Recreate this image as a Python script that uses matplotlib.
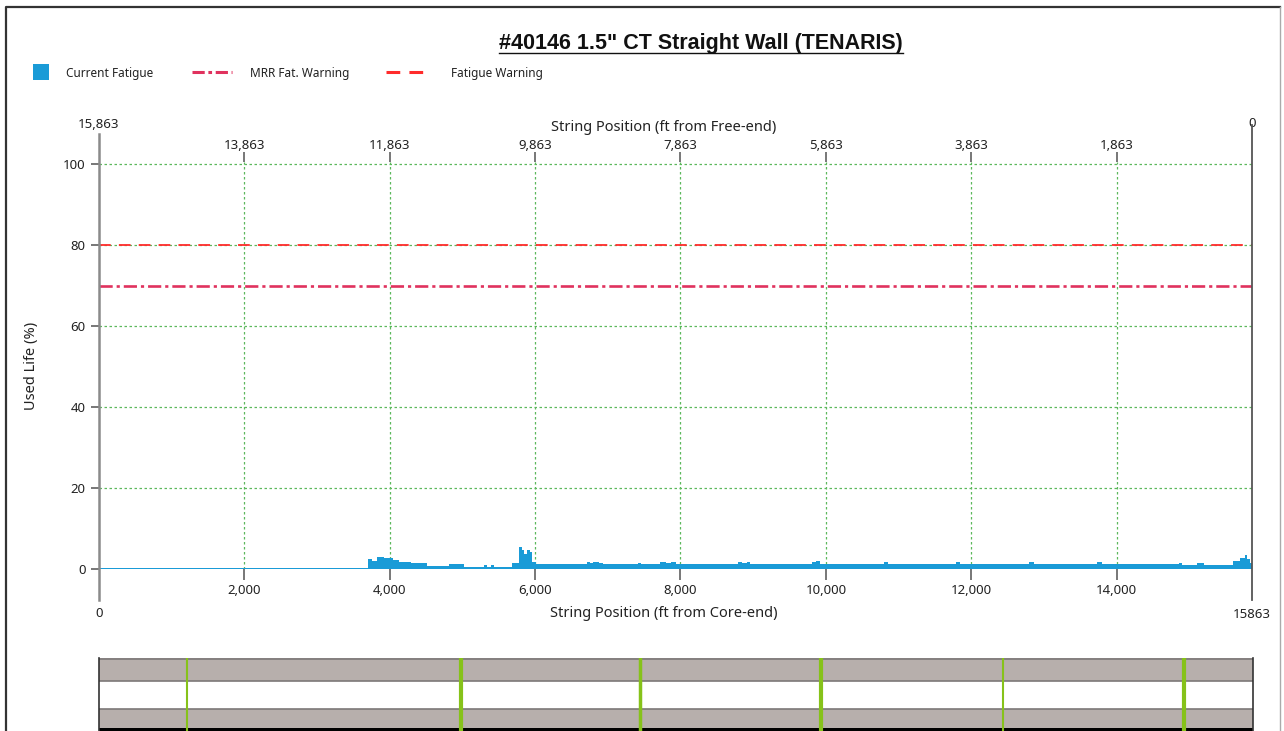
import matplotlib
matplotlib.use("Agg")
import matplotlib.pyplot as plt
from matplotlib.patches import Rectangle

plt.rcParams['font.family'] = ['Noto Sans', 'DejaVu Sans']

# ---- data ---------------------------------------------------------------
string_length = 15863
chart_title = '#40146 1.5" CT Straight Wall (TENARIS)'

# fatigue profile as steps: start of segment (ft from core-end) and used life (%)
seg_start = [0, 3706, 3760, 3830, 3922, 4050, 4128, 4289, 4518, 4816, 5023, 5298,
             5344, 5400, 5430, 5688, 5780, 5815, 5849, 5894, 5930, 5963, 6009,
             6709, 6760, 6800, 6880, 6937, 7420, 7460, 7713, 7800, 7870, 7941,
             8785, 8850, 8917, 8960, 9811, 9870, 9925, 10800, 10860, 11790,
             11850, 12800, 12860, 13725, 13805, 14860, 14900, 15100, 15200,
             15600, 15700, 15760, 15800, 15840]
seg_value = [0.3, 2.4, 2.0, 3.0, 2.6, 2.3, 1.8, 1.4, 0.8, 1.2, 0.6, 1.1,
             0.6, 0.9, 0.6, 1.4, 5.5, 4.6, 3.6, 4.7, 4.2, 1.8, 1.2,
             1.7, 1.4, 1.8, 1.4, 1.2, 1.6, 1.2, 1.7, 1.4, 1.8, 1.2,
             1.7, 1.4, 1.7, 1.2, 1.7, 2.0, 1.2, 1.8, 1.2, 1.8,
             1.2, 1.8, 1.2, 1.7, 1.2, 1.6, 1.0, 1.4, 1.0,
             2.0, 2.6, 3.5, 2.4, 1.5]

fatigue_warning = 80
mrr_warning = 70

x_ticks = [2000, 4000, 6000, 8000, 10000, 12000, 14000]
y_ticks = [0, 20, 40, 60, 80, 100]

# welds shown in the strip under the chart (ft from core-end)
weld_pos = [1210, 4970, 7430, 9930, 12420, 14910]
weld_lw = [1.5, 3.0, 2.5, 3.0, 1.5, 3.0]

# ---- style ----------------------------------------------------------------
W, H = 1284, 731
c_fill = '#1a9bd7'
c_mrr = '#e0325e'
c_fat = '#ff2b2b'
c_grid = '#5cb85c'
c_tick = '#777777'
c_text = '#222222'
fs_tick = 9.5
fs_label = 10.5


def rect(x0, y0, x1, y1):
    # pixel box (top-left origin) -> figure fraction
    return [x0 / W, 1 - y1 / H, (x1 - x0) / W, (y1 - y0) / H]


fig = plt.figure(figsize=(W / 100, H / 100), dpi=100)

# ---- main chart -------------------------------------------------------------
ax = fig.add_axes(rect(99, 162, 1252, 569))
ax.set_xlim(0, string_length)
ax.set_ylim(0, 100.5)

xs = seg_start + [string_length]
ys = seg_value + [seg_value[-1]]
ax.fill_between(xs, 0, ys, step='post', color=c_fill, lw=0, zorder=3)

ax.axhline(fatigue_warning, color=c_fat, lw=1.3, ls=(0, (6.5, 4.5)), zorder=4)
ax.axhline(mrr_warning, color=c_mrr, lw=1.9, ls=(0, (5, 1.5, 1.2, 1.5)), zorder=4)

for s in ax.spines.values():
    s.set_visible(False)

ax.set_xticks(x_ticks)
ax.set_xticklabels([f"{t:,}" for t in x_ticks])
ax.set_yticks(y_ticks)
ax.grid(True, color=c_grid, lw=0.9, ls=(0, (2, 2)), zorder=1)
ax.tick_params(axis='x', length=8, width=1.4, color=c_tick, pad=2.5,
               labelsize=fs_tick, labelcolor=c_text)
ax.tick_params(axis='y', length=6, width=1.4, color=c_tick, pad=3.5,
               labelsize=fs_tick, labelcolor=c_text)

ax.set_xlabel('String Position (ft from Core-end)', fontsize=fs_label, color=c_text)
ax.xaxis.set_label_coords(0.49, -0.09)
ax.set_ylabel('Used Life (%)', fontsize=fs_label, color=c_text)
ax.yaxis.set_label_coords(-0.052, 0.5)

trans = ax.get_xaxis_transform()
# left axis line and right end line
ax.plot([0, 0], [-0.076, 1.068], transform=trans, color='#8a8a8a', lw=1.8,
        clip_on=False, zorder=5)
ax.plot([string_length, string_length], [-0.076, 1.09], transform=trans,
        color='#555555', lw=1.3, clip_on=False, zorder=5)
ax.text(0, -0.11, "0", transform=trans, ha='center', va='center',
        fontsize=fs_tick, color=c_text)
ax.text(string_length, -0.113, f"{string_length}", transform=trans,
        ha='center', va='center', fontsize=fs_tick, color=c_text)

# top axis: ft from free-end
ax2 = ax.twiny()
ax2.set_xlim(0, string_length)
for s in ax2.spines.values():
    s.set_visible(False)
ax2.set_xticks(x_ticks)
ax2.set_xticklabels([f"{string_length - t:,}" for t in x_ticks])
ax2.tick_params(axis='x', length=7.5, width=1.4, color=c_tick, pad=0,
                labelsize=fs_tick, labelcolor=c_text)
ax2.set_xlabel('String Position (ft from Free-end)', fontsize=fs_label, color=c_text)
ax2.xaxis.set_label_coords(0.49, 1.075)
ax.text(0, 1.093, f"{string_length:,}", transform=trans, ha='center',
        va='center', fontsize=fs_tick, color=c_text)
ax.text(string_length, 1.095, "0", transform=trans, ha='center',
        va='center', fontsize=fs_tick, color=c_text)

# ---- weld strip -----------------------------------------------------------
sx = fig.add_axes(rect(99, 658, 1253, 731))
sx.set_xlim(0, string_length)
sx.set_ylim(0, 1)
sx.axhspan(0.685, 1, color='#b7afac', lw=0)
sx.axhspan(0.301, 0.685, color='white', lw=0)
sx.axhspan(0.041, 0.301, color='#b7afac', lw=0)
sx.axhspan(0, 0.041, color='black', lw=0)
for yb in [0.985, 0.685, 0.301]:
    sx.axhline(yb, color='#7d7878', lw=1.2)
for xp, lw in zip(weld_pos, weld_lw):
    sx.axvline(xp, color='#86c21a', lw=lw)
sx.set_xticks([])
sx.set_yticks([])
for k in ['top', 'bottom']:
    sx.spines[k].set_visible(False)
for k in ['left', 'right']:
    sx.spines[k].set_color('#333333')
    sx.spines[k].set_linewidth(1.2)

# ---- overlay: frame, title, legend ----------------------------------------
ov = fig.add_axes([0, 0, 1, 1], facecolor='none')
ov.set_xlim(0, W)
ov.set_ylim(H, 0)
ov.axis('off')
ov.plot([6, 6, 1280], [H, 7, 7], color='#333333', lw=1.6)
ov.plot([1280, 1280], [7, H], color='#aaaaaa', lw=1.0)

t = ov.text(701, 49, chart_title, ha='center', va='baseline',
            fontsize=15.5, fontweight='bold', family='Liberation Sans',
            color='#111111')
fig.canvas.draw()
bb = t.get_window_extent()
ov.plot([bb.x0, bb.x1], [52.5, 52.5], color='#111111', lw=1.0)

ov.add_patch(Rectangle((33, 64), 16, 16, color=c_fill, lw=0))
ov.text(66, 73, 'Current Fatigue', fontsize=8.5, va='center', color=c_text)
ov.plot([192, 232], [72, 72], color=c_mrr, lw=2.2, ls=(0, (4, 1.2, 1.2, 1.2)))
ov.text(250, 73, 'MRR Fat. Warning', fontsize=8.5, va='center', color=c_text)
ov.plot([386, 428], [72, 72], color=c_fat, lw=2.2, ls=(0, (4.5, 3)))
ov.text(451, 73, 'Fatigue Warning', fontsize=8.5, va='center', color=c_text)

fig.savefig('out.png', dpi=100)
